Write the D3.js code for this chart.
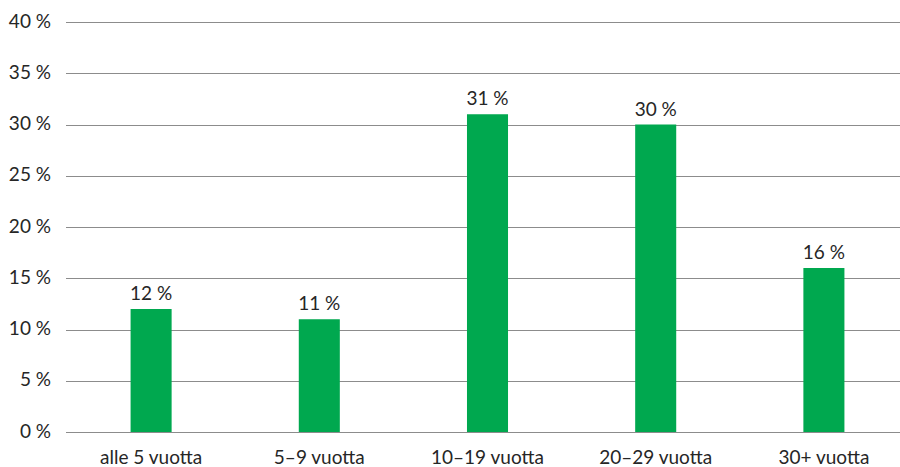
<!DOCTYPE html>
<html>
<head>
<meta charset="utf-8">
<script src="https://cdn.jsdelivr.net/npm/d3@7"></script>
<style>
  html, body { margin: 0; padding: 0; background: #fff; }
  svg text { font-family: Lato, 'Open Sans', sans-serif; fill: #262626; }
</style>
</head>
<body>
<div id="chart"></div>
<script>
const categories = ['alle 5 vuotta', '5–9 vuotta', '10–19 vuotta', '20–29 vuotta', '30+ vuotta']
const shares = [12, 11, 31, 30, 16]
const yTicks = [0, 5, 10, 15, 20, 25, 30, 35, 40]

const width = 900
const height = 467
const margin = { top: 22, right: -8, bottom: 35, left: 67 }

const svg = d3.select('#chart')
  .append('svg')
  .attr('width', width)
  .attr('height', height)

const x = d3.scaleBand()
  .domain(categories)
  .range([margin.left, width - margin.right])
  .paddingInner(0.756)
  .paddingOuter(0.378)

const y = d3.scaleLinear()
  .domain([0, 40])
  .range([height - margin.bottom, margin.top])

// gridlines + y labels
const grid = svg.append('g')
grid.selectAll('line')
  .data(yTicks)
  .join('line')
  .attr('x1', 66)
  .attr('x2', width)
  .attr('y1', d => Math.round(y(d)) + 0.5)
  .attr('y2', d => Math.round(y(d)) + 0.5)
  .attr('stroke', '#8c8c8c')
  .attr('stroke-width', 1)

grid.selectAll('text')
  .data(yTicks)
  .join('text')
  .attr('x', 51)
  .attr('y', d => y(d))
  .attr('dy', '0.3em')
  .attr('text-anchor', 'end')
  .style('font-size', '19px')
  .text(d => d + ' %')

// bars
svg.append('g')
  .selectAll('rect')
  .data(shares)
  .join('rect')
  .attr('x', (d, i) => x(categories[i]))
  .attr('width', x.bandwidth())
  .attr('y', d => y(d))
  .attr('height', d => y(0) - y(d))
  .attr('fill', '#00a84f')

// redraw baseline on top of bars
svg.append('line')
  .attr('x1', 66)
  .attr('x2', width)
  .attr('y1', Math.round(y(0)) + 0.5)
  .attr('y2', Math.round(y(0)) + 0.5)
  .attr('stroke', '#8c8c8c')

// value labels
svg.append('g')
  .selectAll('text')
  .data(shares)
  .join('text')
  .attr('x', (d, i) => x(categories[i]) + x.bandwidth() / 2)
  .attr('y', d => y(d) - 9)
  .attr('text-anchor', 'middle')
  .style('font-size', '19px')
  .text(d => d + ' %')

// category labels
svg.append('g')
  .selectAll('text')
  .data(categories)
  .join('text')
  .attr('x', d => x(d) + x.bandwidth() / 2)
  .attr('y', 464)
  .attr('text-anchor', 'middle')
  .style('font-size', '19px')
  .text(d => d)
</script>
</body>
</html>
